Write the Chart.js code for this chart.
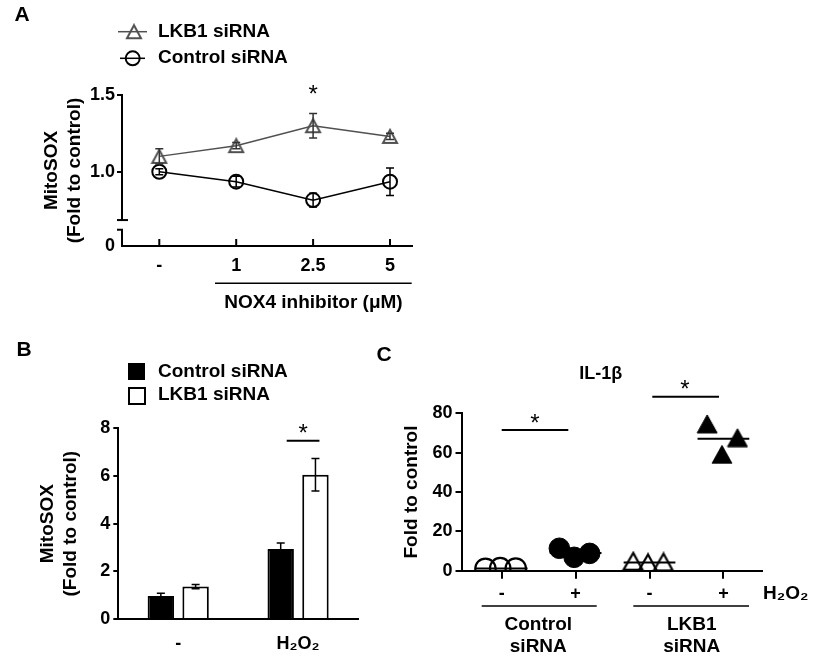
<!DOCTYPE html>
<html>
<head>
<meta charset="utf-8">
<title>MitoSOX / IL-1β</title>
<script src="https://cdn.jsdelivr.net/npm/chart.js@4.4.1/dist/chart.umd.min.js"></script>
<style>
  html, body { margin: 0; padding: 0; background: #fff; }
  #fig { position: relative; width: 813px; height: 659px; overflow: hidden; }
  #fig canvas { position: absolute; }
</style>
</head>
<body>
<div id="fig">
  <canvas id="chartA" width="430" height="320" style="left:0;top:0;width:430px;height:320px"></canvas>
  <canvas id="chartB" width="400" height="329" style="left:0;top:330px;width:400px;height:329px"></canvas>
  <canvas id="chartC" width="413" height="329" style="left:400px;top:330px;width:413px;height:329px"></canvas>
</div>
<script>
// panel A: MitoSOX vs NOX4 inhibitor dose
const doses = ['-', '1', '2.5', '5'];
const lkbA = [1.10, 1.17, 1.30, 1.23];
const lkbAErr = [0.05, 0.02, 0.08, 0.02];
const ctrlA = [1.00, 0.935, 0.815, 0.935];
const ctrlAErr = [0.02, 0.035, 0.045, 0.09];

// panel B: MitoSOX with / without H2O2
const treatB = ['-', 'H₂O₂'];
const ctrlB = [0.97, 2.94];
const ctrlBErr = [0.11, 0.25];
const lkbB = [1.36, 6.05];
const lkbBErr = [0.09, 0.68];

// panel C: IL-1β, three replicates per group
const groupsC = ['-', '+', '-', '+'];
const ctrlMinusC = [1.0, 1.3, 1.1];
const ctrlPlusC = [11.4, 6.8, 8.8];
const lkbMinusC = [4.6, 3.8, 4.2];
const lkbPlusC = [74.6, 59.1, 67.6];
const spreadC = [-0.22, -0.02, 0.19];

const FONT = '"Liberation Sans", Arial, sans-serif';
Chart.defaults.font.family = FONT;
Chart.defaults.font.size = 18;
Chart.defaults.font.weight = 'bold';
Chart.defaults.color = '#000';
Chart.defaults.animation = false;

function seg(ctx, x1, y1, x2, y2, w = 2, color = '#000') {
    ctx.save();
    ctx.strokeStyle = color;
    ctx.lineWidth = w;
    ctx.beginPath();
    ctx.moveTo(x1, y1);
    ctx.lineTo(x2, y2);
    ctx.stroke();
    ctx.restore();
}

function label(ctx, str, x, y, align = 'center', size = 19, weight = 'bold') {
    ctx.save();
    ctx.font = weight + ' ' + size + 'px ' + FONT;
    ctx.fillStyle = '#000';
    ctx.textAlign = align;
    ctx.textBaseline = 'middle';
    ctx.fillText(str, x, y);
    ctx.restore();
}

function star(ctx, x, y) {
    ctx.save();
    ctx.font = 'normal 24px ' + FONT;
    ctx.fillStyle = '#000';
    ctx.textAlign = 'center';
    ctx.textBaseline = 'alphabetic';
    ctx.fillText('*', x, y + 14);
    ctx.restore();
}

// triangle marker centred on its bounding box
function triangleImage(w, h, fill, stroke, lw) {
    const c = document.createElement('canvas');
    c.width = Math.ceil(w + lw * 2);
    c.height = Math.ceil(h + lw * 2);
    const g = c.getContext('2d');
    g.beginPath();
    g.moveTo(c.width / 2, lw);
    g.lineTo(lw + w, lw + h);
    g.lineTo(lw, lw + h);
    g.closePath();
    if (fill) { g.fillStyle = fill; g.fill(); }
    if (stroke) { g.strokeStyle = stroke; g.lineWidth = lw; g.lineJoin = 'miter'; g.stroke(); }
    return c;
}

const triA = triangleImage(14, 13, null, '#505050', 2);
const triOpenC = triangleImage(19, 17, null, '#000', 2.2);
const triFillC = triangleImage(20, 18, '#000', '#000', 1);

const errorBars = {
    id: 'errorBars',
    afterDatasetsDraw(chart, args, opts) {
        const {ctx} = chart;
        chart.data.datasets.forEach((ds, di) => {
            if (!ds.errors) return;
            const meta = chart.getDatasetMeta(di);
            const yScale = chart.scales[meta.yAxisID];
            ctx.save();
            ctx.strokeStyle = ds.errorColor || '#000';
            ctx.lineWidth = opts.width || 1.5;
            const cap = opts.cap || 4;
            meta.data.forEach((el, i) => {
                const raw = ds.data[i];
                const v = typeof raw === 'object' ? raw.y : raw;
                const e = ds.errors[i];
                const top = yScale.getPixelForValue(v + e);
                const bot = yScale.getPixelForValue(v - e);
                ctx.beginPath();
                ctx.moveTo(el.x, top); ctx.lineTo(el.x, bot);
                ctx.moveTo(el.x - cap, top); ctx.lineTo(el.x + cap, top);
                ctx.moveTo(el.x - cap, bot); ctx.lineTo(el.x + cap, bot);
                ctx.stroke();
            });
            ctx.restore();
        });
    }
};

// ---------- panel A ----------
const yMinA = 0.516;
const panelA = {
    id: 'panelA',
    afterDraw(chart) {
        const {ctx, chartArea: ca, scales: {x, y}} = chart;
        const ax = ca.left;
        const yHi = y.getPixelForValue(1.5);
        const yBreakHi = y.getPixelForValue(0.685);
        const yBreakLo = y.getPixelForValue(0.622);
        // broken y axis
        seg(ctx, ax, yHi - 1, ax, yBreakHi);
        seg(ctx, ax - 5, yBreakHi, ax + 6, yBreakHi);
        seg(ctx, ax, yBreakLo, ax, ca.bottom);
        seg(ctx, ax - 5, yBreakLo, ax + 1, yBreakLo);
        // inward x ticks
        x.ticks.forEach(t => {
            const px = x.getPixelForValue(t.value);
            seg(ctx, px, ca.bottom, px, ca.bottom - 7);
        });
        label(ctx, 'A', 22, 15, 'center', 21);
        // legend
        seg(ctx, 118, 31.7, 147, 31.7, 1.5, '#505050');
        ctx.drawImage(triA, 134 - triA.width / 2, 31.7 - triA.height / 2);
        label(ctx, 'LKB1 siRNA', 158, 32, 'left');
        seg(ctx, 120, 58.3, 145, 58.3, 1.5, '#000');
        ctx.save();
        ctx.strokeStyle = '#000';
        ctx.lineWidth = 2;
        ctx.beginPath();
        ctx.arc(132.7, 58.3, 7, 0, Math.PI * 2);
        ctx.stroke();
        ctx.restore();
        label(ctx, 'Control siRNA', 158, 58, 'left');
        // dose axis caption
        seg(ctx, 215, 283.3, 411.7, 283.3, 1.5);
        label(ctx, 'NOX4 inhibitor (μM)', 313.5, 303, 'center', 19);
        star(ctx, x.getPixelForValue(2), 88.3);
    }
};

new Chart(document.getElementById('chartA'), {
    type: 'line',
    data: {
        datasets: [
            {
                label: 'LKB1 siRNA',
                data: lkbA.map((v, i) => ({x: i, y: v})),
                errors: lkbAErr,
                errorColor: '#333',
                borderColor: '#505050',
                borderWidth: 1.5,
                pointStyle: triA,
                pointRadius: 8
            },
            {
                label: 'Control siRNA',
                data: ctrlA.map((v, i) => ({x: i, y: v})),
                errors: ctrlAErr,
                errorColor: '#000',
                borderColor: '#000',
                borderWidth: 1.5,
                pointStyle: 'circle',
                pointRadius: 7,
                pointBorderWidth: 2,
                pointBackgroundColor: 'rgba(0,0,0,0)'
            }
        ]
    },
    options: {
        responsive: false,
        events: [],
        layout: {padding: {left: 0, top: 95, right: 18, bottom: 0}},
        plugins: {legend: {display: false}, tooltip: {enabled: false}, errorBars: {cap: 4}},
        scales: {
            x: {
                type: 'linear',
                min: -0.485,
                max: 3.286,
                afterBuildTicks: s => { s.ticks = doses.map((d, i) => ({value: i})); },
                afterFit: s => { s.height = 74; },
                ticks: {callback: v => doses[v], padding: 9, font: {size: 18}},
                grid: {display: false, drawTicks: false},
                border: {display: true, color: '#000', width: 2}
            },
            y: {
                min: yMinA,
                max: 1.5,
                afterBuildTicks: s => { s.ticks = [yMinA, 1.0, 1.5].map(v => ({value: v})); },
                afterFit: s => { s.width = 122; },
                ticks: {callback: v => v === yMinA ? '0' : v.toFixed(1), padding: 2, font: {size: 18}},
                grid: {
                    drawOnChartArea: false,
                    drawTicks: true,
                    tickLength: 5,
                    lineWidth: 2,
                    color: c => c.tick && c.tick.value === yMinA ? 'rgba(0,0,0,0)' : '#000'
                },
                border: {display: false},
                title: {
                    display: true,
                    text: ['MitoSOX', '(Fold to control)'],
                    font: {size: 19, weight: 'bold'},
                    padding: {top: 40.6, bottom: 0}
                }
            }
        }
    },
    plugins: [errorBars, panelA]
});

// ---------- panel B ----------
const panelB = {
    id: 'panelB',
    afterDraw(chart) {
        const {ctx} = chart;
        label(ctx, 'B', 24, 20, 'center', 21);
        label(ctx, 'C', 384, 25, 'center', 21);
        ctx.save();
        ctx.lineWidth = 2;
        ctx.strokeStyle = '#000';
        ctx.fillStyle = '#000';
        ctx.fillRect(128, 33, 17, 17);
        ctx.strokeRect(129, 58, 16, 16);
        ctx.restore();
        label(ctx, 'Control siRNA', 158, 42, 'left');
        label(ctx, 'LKB1 siRNA', 158, 65, 'left');
        const meta0 = chart.getDatasetMeta(0).data[1];
        const meta1 = chart.getDatasetMeta(1).data[1];
        seg(ctx, meta0.x + 6, 110.7, meta1.x + 4, 110.7, 2);
        star(ctx, (meta0.x + meta1.x) / 2 + 5, 97.3);
    }
};

new Chart(document.getElementById('chartB'), {
    type: 'bar',
    data: {
        labels: treatB,
        datasets: [
            {
                label: 'Control siRNA',
                data: ctrlB,
                errors: ctrlBErr,
                backgroundColor: '#000',
                borderColor: '#000',
                borderWidth: 2
            },
            {
                label: 'LKB1 siRNA',
                data: lkbB,
                errors: lkbBErr,
                backgroundColor: '#fff',
                borderColor: '#000',
                borderWidth: 2
            }
        ]
    },
    options: {
        responsive: false,
        events: [],
        categoryPercentage: 0.58,
        barPercentage: 0.76,
        layout: {padding: {left: 0, top: 98.3, right: 42, bottom: 0}},
        plugins: {legend: {display: false}, tooltip: {enabled: false}, errorBars: {cap: 4}},
        scales: {
            x: {
                afterFit: s => { s.height = 40; },
                ticks: {padding: 14, font: {size: 18}},
                grid: {display: false, drawTicks: false},
                border: {display: true, color: '#000', width: 2}
            },
            y: {
                min: 0,
                max: 8,
                afterFit: s => { s.width = 118.3; },
                ticks: {stepSize: 2, padding: 3, font: {size: 18}},
                grid: {drawOnChartArea: false, drawTicks: true, tickLength: 5, lineWidth: 2, color: '#000'},
                border: {display: true, color: '#000', width: 2},
                title: {
                    display: true,
                    text: ['MitoSOX', '(Fold to control)'],
                    font: {size: 19, weight: 'bold'},
                    padding: {top: 36.6, bottom: 0}
                }
            }
        }
    },
    plugins: [errorBars, panelB]
});

// ---------- panel C ----------
const meanLines = {
    id: 'meanLines',
    beforeDatasetsDraw(chart) {
        const {ctx, scales: {x, y}} = chart;
        chart.data.datasets.forEach(ds => {
            const ys = ds.data.map(p => p.y);
            const mean = ys.reduce((a, b) => a + b, 0) / ys.length;
            const cx = ds.group;
            seg(ctx, x.getPixelForValue(cx - 0.35), y.getPixelForValue(mean),
                x.getPixelForValue(cx + 0.35), y.getPixelForValue(mean), 2);
        });
    }
};

const panelC = {
    id: 'panelC',
    afterDraw(chart) {
        const {ctx} = chart;
        label(ctx, 'IL-1β', 200.8, 44, 'center', 18);
        label(ctx, 'H₂O₂', 385.8, 263.3, 'center', 19);
        seg(ctx, 81.7, 276, 196.7, 276, 1.5);
        seg(ctx, 233.3, 276, 349, 276, 1.5);
        label(ctx, 'Control', 138.3, 295, 'center', 19);
        label(ctx, 'siRNA', 138.3, 316.7, 'center', 19);
        label(ctx, 'LKB1', 291.7, 295, 'center', 19);
        label(ctx, 'siRNA', 291.7, 316.7, 'center', 19);
        seg(ctx, 101.7, 100, 168.3, 100, 2);
        star(ctx, 135, 86.5);
        seg(ctx, 252.3, 66.7, 319, 66.7, 2);
        star(ctx, 285, 53.3);
    }
};

function replicates(values, group) {
    return values.map((v, i) => ({x: group + spreadC[i], y: v}));
}

new Chart(document.getElementById('chartC'), {
    type: 'scatter',
    data: {
        datasets: [
            {
                label: 'Control siRNA -',
                group: 1,
                data: replicates(ctrlMinusC, 1),
                pointStyle: 'circle',
                pointRadius: 10.2,
                pointBorderWidth: 2.2,
                borderColor: '#000',
                backgroundColor: 'rgba(0,0,0,0)'
            },
            {
                label: 'Control siRNA +',
                group: 2,
                data: replicates(ctrlPlusC, 2),
                pointStyle: 'circle',
                pointRadius: 10.3,
                pointBorderWidth: 1,
                borderColor: '#000',
                backgroundColor: '#000'
            },
            {
                label: 'LKB1 siRNA -',
                group: 3,
                data: replicates(lkbMinusC, 3),
                pointStyle: triOpenC,
                pointRadius: 10
            },
            {
                label: 'LKB1 siRNA +',
                group: 4,
                data: replicates(lkbPlusC, 4),
                pointStyle: triFillC,
                pointRadius: 10
            }
        ]
    },
    options: {
        responsive: false,
        events: [],
        layout: {padding: {left: 0, top: 83.3, right: 51.3, bottom: 0}},
        plugins: {legend: {display: false}, tooltip: {enabled: false}},
        scales: {
            x: {
                type: 'linear',
                min: 0.456,
                max: 4.518,
                afterBuildTicks: s => { s.ticks = groupsC.map((g, i) => ({value: i + 1})); },
                afterFit: s => { s.height = 88.3; },
                ticks: {callback: v => groupsC[v - 1], padding: 5, font: {size: 18}},
                grid: {drawOnChartArea: false, drawTicks: true, tickLength: 8, lineWidth: 2, color: '#000'},
                border: {display: true, color: '#000', width: 2}
            },
            y: {
                min: 0,
                max: 80,
                afterFit: s => { s.width = 61.5; },
                ticks: {stepSize: 20, padding: 3, font: {size: 18}},
                grid: {drawOnChartArea: false, drawTicks: true, tickLength: 6, lineWidth: 2, color: '#000'},
                border: {display: true, color: '#000', width: 2},
                title: {
                    display: true,
                    text: 'Fold to control',
                    font: {size: 19, weight: 'bold'},
                    padding: {top: 0.5, bottom: 0}
                }
            }
        }
    },
    plugins: [meanLines, panelC]
});
</script>
</body>
</html>
